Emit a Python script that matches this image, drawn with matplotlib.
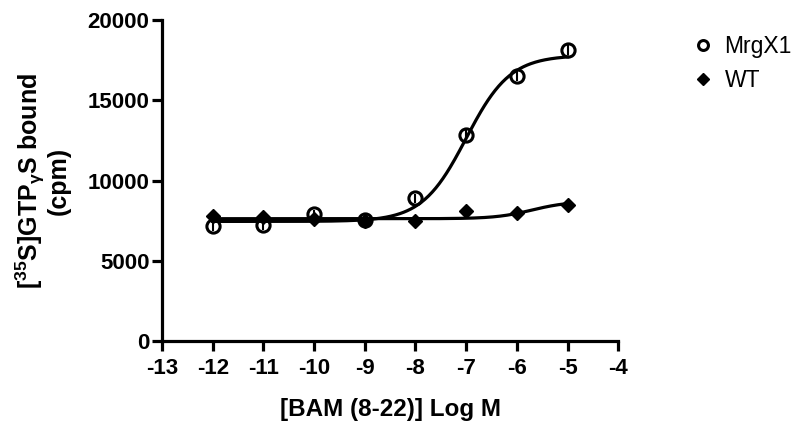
import numpy as np
import matplotlib
matplotlib.use('Agg')
import matplotlib.pyplot as plt

plt.rcParams['font.family'] = ['Liberation Sans', 'DejaVu Sans']
plt.rcParams['mathtext.fontset'] = 'custom'
plt.rcParams['mathtext.rm'] = 'Liberation Sans:bold'
plt.rcParams['mathtext.bf'] = 'Liberation Sans:bold'
plt.rcParams['mathtext.it'] = 'Liberation Sans:bold'
plt.rcParams['axes.unicode_minus'] = False

log_conc = [-12, -11, -10, -9, -8, -7, -6, -5]
mrgx1 = [7180, 7230, 7890, 7540, 8890, 12840, 16510, 18130]
mrgx1_err = [300, 300, 300, 250, 300, 300, 300, 300]
wt = [7790, 7745, 7600, 7500, 7500, 8120, 7960, 8470]

# sigmoidal dose-response fit parameters (bottom, top, logEC50, hill)
fit_mrgx1 = (7450, 17800, -7.0, 1.0)
fit_wt = (7620, 8700, -5.7, 1.2)


def dose_response(x, bottom, top, logec50, hill):
    return bottom + (top - bottom) / (1 + 10 ** ((logec50 - x) * hill))


fig = plt.figure(figsize=(8.06, 4.21), dpi=100)
ax = fig.add_axes([0.201, 0.19, 0.566, 0.7625])

xs = np.linspace(-12, -5, 300)
ax.plot(xs, dose_response(xs, *fit_mrgx1), 'k', lw=2.3)
ax.plot(xs, dose_response(xs, *fit_wt), 'k', lw=2.3)

ax.plot(log_conc, wt, 'D', color='k', ms=7.5, label='WT', zorder=3)
ax.errorbar(log_conc, mrgx1, yerr=mrgx1_err, fmt='none', ecolor='k', elinewidth=1.5, zorder=4)
ax.plot(log_conc, mrgx1, 'o', mfc='none', mec='k', mew=2.2, ms=9.5, label='MrgX1', zorder=4)

ax.set_xlim(-13, -4)
ax.set_ylim(0, 20000)
ax.set_xticks(range(-13, -3))
ax.set_yticks([0, 5000, 10000, 15000, 20000])
for s in ['top', 'right']:
    ax.spines[s].set_visible(False)
for s in ['left', 'bottom']:
    ax.spines[s].set_linewidth(2.3)
ax.tick_params(width=2.3, length=7, labelsize=16, pad=2)
ax.tick_params(axis='x', pad=5)
for lab in ax.get_xticklabels() + ax.get_yticklabels():
    lab.set_fontweight('bold')

ax.set_xlabel('[BAM (8-22)] Log M', fontsize=17.5, fontweight='bold', labelpad=14)
ax.set_ylabel('[$^{35}$S]GTP$_{\\mathrm{γ}}$S bound\n(cpm)', fontsize=18,
              fontweight='bold', linespacing=1.0, labelpad=12)

h, l = ax.get_legend_handles_labels()
fig.legend([h[1], h[0]], [l[1], l[0]], loc='upper left', bbox_to_anchor=(0.832, 0.965),
           frameon=False, fontsize=16.5, handletextpad=0.45, labelspacing=0.45,
           handlelength=1.0, markerscale=0.75)

fig.savefig('out.png', dpi=100)
